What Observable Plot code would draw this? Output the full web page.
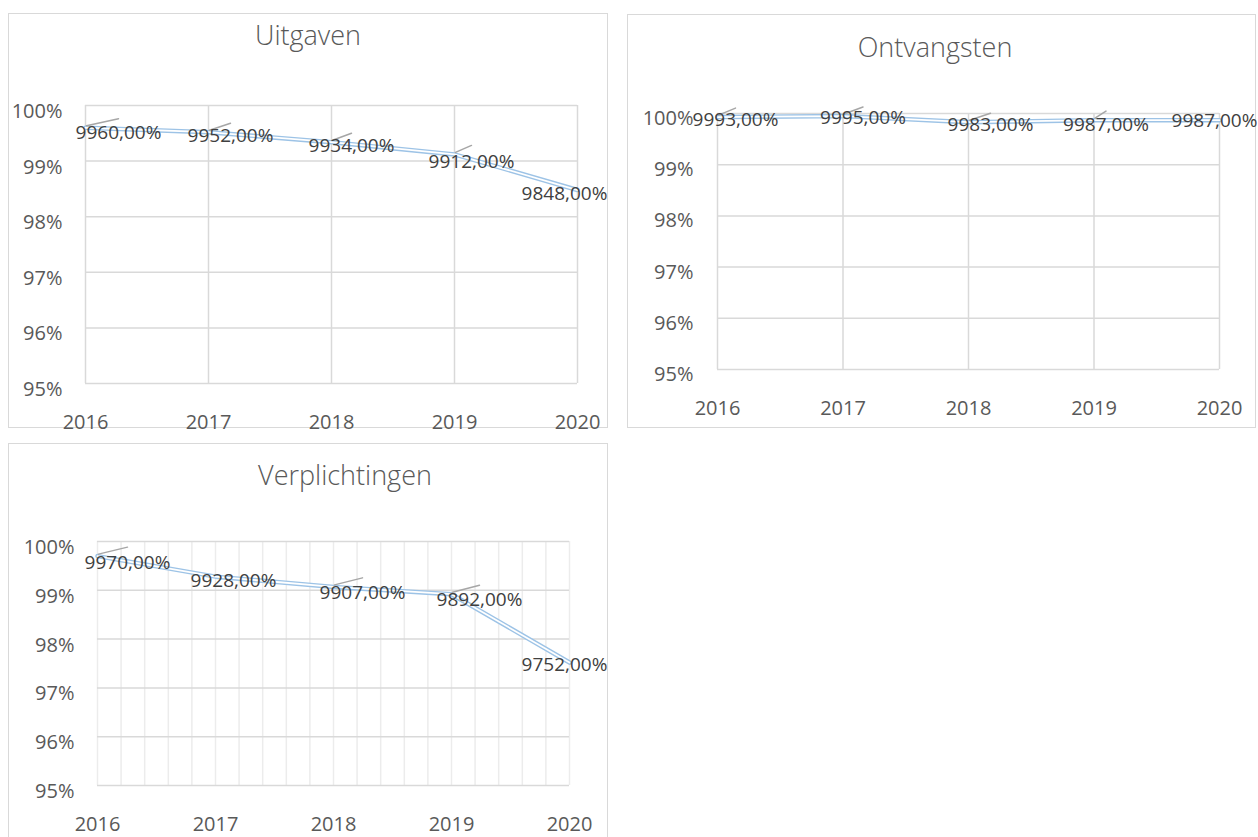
<!DOCTYPE html>
<html>
<head>
<meta charset="utf-8">
<script src="https://cdn.jsdelivr.net/npm/d3@7"></script>
<script src="https://cdn.jsdelivr.net/npm/@observablehq/plot@0.6"></script>
<style>
  html, body { margin: 0; padding: 0; background: #fff; width: 1258px; height: 837px; overflow: hidden; }
  body { position: relative; font-family: "Open Sans", sans-serif; }
  .panel { position: absolute; box-sizing: border-box; border: 1.5px solid #d9d9d9; }
  .title { position: absolute; transform: translate(-50%, -50%); font-size: 27px; font-weight: 300; color: #595959; line-height: 1; white-space: nowrap; }
  svg.chart { position: absolute; overflow: visible; }
</style>
</head>
<body>
<script>
// ---- data ----
const years = [2016, 2017, 2018, 2019, 2020];
const uitgaven = [99.60, 99.52, 99.34, 99.12, 98.48];
const ontvangsten = [99.93, 99.95, 99.83, 99.87, 99.87];
const verplichtingen = [99.70, 99.28, 99.07, 98.92, 97.52];
const yTicks = [95, 96, 97, 98, 99, 100];
const titles = ["Uitgaven", "Ontvangsten", "Verplichtingen"];

// ---- layout ----
const panels = [
  {title: titles[0], values: uitgaven, left: 8, top: 13, width: 600, height: 415,
   mL: 77, mR: 31, mT: 92, mB: 45, padY: 23, tickDy: 6, titleX: 308, titleY: 34, minor: false,
   dx: [33, 22, 20, 17, -13], dy: [5, 4, 4, 7, 4], leaders: [1, 1, 1, 1, 0], boxH: 415},
  {title: titles[1], values: ontvangsten, left: 627, top: 14, width: 629, height: 414,
   mL: 90, mR: 37, mT: 99, mB: 59, padY: 24, tickDy: 5, titleX: 935, titleY: 46, minor: false,
   dx: [18, 20, 22, 12, -5], dy: [3, 2, 3, 5, 1], leaders: [1, 1, 1, 1, 0], boxH: 414},
  {title: titles[2], values: verplichtingen, left: 8, top: 443, width: 600, height: 394,
   mL: 89, mR: 39, mT: 98, mB: 52, padY: 23, tickDy: 6, titleX: 345, titleY: 474, minor: true,
   dx: [30, 18, 29, 28, -5], dy: [7, 4, 6, 6, 2], leaders: [1, 0, 1, 1, 0], boxH: 430}
];

const fmtLabel = v => (v * 100).toFixed(2).replace(".", ",") + "%";
const leaderShape = {draw(context, l) { context.moveTo(0, 0); context.lineTo(0, -l); }};

for (const p of panels) {
  // bordered box
  const box = document.createElement("div");
  box.className = "panel";
  Object.assign(box.style, {left: p.left + "px", top: p.top + "px", width: p.width + "px", height: p.boxH + "px"});
  document.body.appendChild(box);

  const data = years.map((year, i) => ({year, value: p.values[i], i}));
  const vGrid = p.minor ? years.slice(0, -1).flatMap(y => [0, 0.2, 0.4, 0.6, 0.8].map(f => y + f)).concat([years[years.length - 1]]) : years;

  const marks = [
    Plot.gridX(vGrid, {stroke: p.minor ? "#ececec" : "#d9d9d9", strokeOpacity: 1, strokeWidth: 1.5}),
    Plot.gridY(yTicks, {stroke: "#d9d9d9", strokeOpacity: 1, strokeWidth: 1.5}),
    Plot.axisY(yTicks, {tickSize: 0, tickPadding: p.padY, dy: p.tickDy, tickFormat: d => d + "%", fontSize: 20, fill: "#595959", label: null}),
    Plot.axisX(years, {tickSize: 0, tickPadding: 31, tickFormat: d => String(d), fontSize: 20, fill: "#595959", label: null}),
    Plot.line(data, {x: "year", y: "value", stroke: "#9dc3e6", strokeWidth: 4.5}),
    Plot.line(data, {x: "year", y: "value", stroke: "#ffffff", strokeWidth: 1.8})
  ];
  data.forEach((d, i) => {
    if (p.leaders[i]) {
      const ddx = p.dx[i] - 1, ddy = 7;
      marks.push(Plot.vector([d], {x: "year", y: "value", dx: 1, dy: -2, anchor: "start",
        length: Math.hypot(ddx, ddy), rotate: Math.atan2(ddx, ddy) * 180 / Math.PI,
        shape: leaderShape, stroke: "#a6a6a6", strokeWidth: 1.5}));
    }
    marks.push(Plot.text([d], {x: "year", y: "value", text: dd => fmtLabel(dd.value), dx: p.dx[i], dy: p.dy[i],
      fill: "#404040", fontSize: 19, textAnchor: "middle"}));
  });

  const chart = Plot.plot({
    width: p.width, height: p.height,
    marginLeft: p.mL, marginRight: p.mR, marginTop: p.mT, marginBottom: p.mB,
    x: {type: "linear", domain: [2016, 2020], label: null},
    y: {domain: [95, 100], label: null},
    style: {fontFamily: "'Open Sans', sans-serif", color: "#595959", background: "transparent", overflow: "visible"},
    marks
  });
  chart.classList.add("chart");
  chart.style.left = p.left + "px";
  chart.style.top = p.top + "px";
  document.body.appendChild(chart);

  const t = document.createElement("div");
  t.className = "title";
  t.textContent = p.title;
  t.style.left = p.titleX + "px";
  t.style.top = p.titleY + "px";
  document.body.appendChild(t);
}
</script>
</body>
</html>
